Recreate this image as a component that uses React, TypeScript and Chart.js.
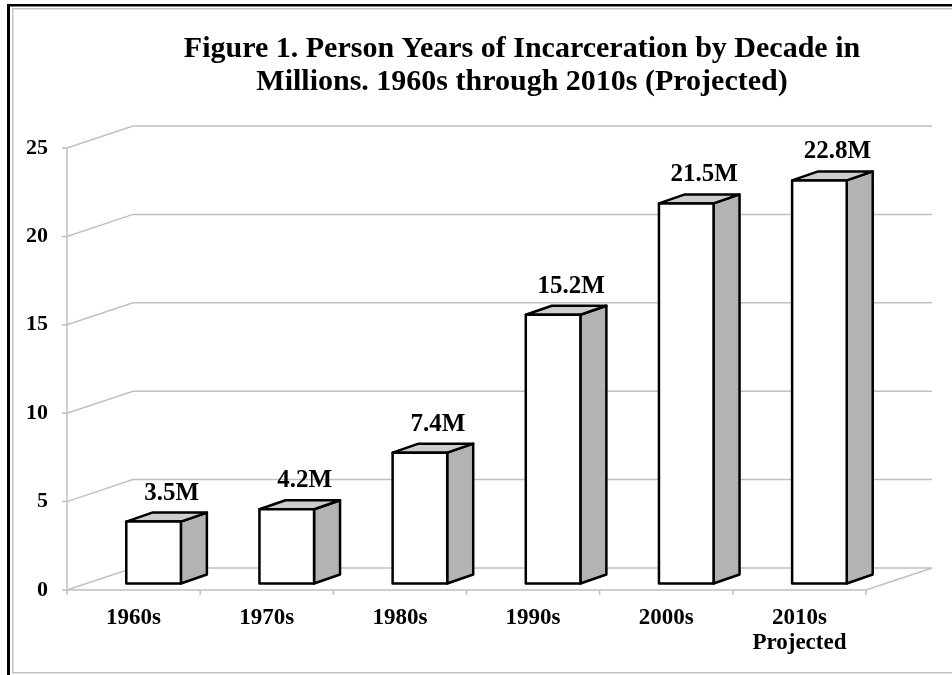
import React, { useEffect, useRef } from "react";
import { Chart, registerables } from "chart.js";

Chart.register(...registerables);

const categories: (string | string[])[] = ["1960s", "1970s", "1980s", "1990s", "2000s", ["2010s", "Projected"]];
const values: number[] = [3.5, 4.2, 7.4, 15.2, 21.5, 22.8];
const valueLabels: string[] = ["3.5M", "4.2M", "7.4M", "15.2M", "21.5M", "22.8M"];
const yTicks: number[] = [0, 5, 10, 15, 20, 25];
const titleLines: string[] = [
  "Figure 1. Person Years of Incarceration by Decade in",
  "Millions. 1960s through 2010s (Projected)",
];

const FONT = "'Liberation Serif', 'Times New Roman', Times, serif";
const DEPTH_X = 66;
const DEPTH_Y = -22;
const BAR_OFF_X = 20;
const BAR_OFF_Y = -6.5;
const BAR_DX = 26;
const BAR_DY = -9;

const threeDPlugin = {
  id: "threeD",
  beforeDraw(chart: any) {
    const ctx = chart.ctx as CanvasRenderingContext2D;
    const W = chart.width;
    const H = chart.height;
    ctx.save();
    ctx.fillStyle = "#ffffff";
    ctx.fillRect(0, 0, W, H);
    // frame
    ctx.fillStyle = "#000000";
    ctx.fillRect(7, 4, 3, H - 4);
    ctx.fillRect(7, 4, W - 7, 2.5);
    ctx.strokeStyle = "#c4c4c4";
    ctx.lineWidth = 1.5;
    ctx.beginPath();
    ctx.moveTo(12.75, H - 2);
    ctx.lineTo(12.75, 8.75);
    ctx.lineTo(W, 8.75);
    ctx.stroke();
    ctx.beginPath();
    ctx.moveTo(12, H - 2.25);
    ctx.lineTo(W, H - 2.25);
    ctx.stroke();

    // grid walls
    const { left, right, top, bottom } = chart.chartArea;
    const ys = chart.scales.y;
    const xs = chart.scales.x;
    ctx.strokeStyle = "#c0c0c0";
    ctx.lineWidth = 1.5;
    yTicks.forEach((v) => {
      const y = ys.getPixelForValue(v);
      ctx.beginPath();
      ctx.moveTo(left - 5, y);
      ctx.lineTo(left, y);
      ctx.lineTo(left + DEPTH_X, y + DEPTH_Y);
      ctx.lineTo(right + DEPTH_X, y + DEPTH_Y);
      ctx.stroke();
    });
    ctx.beginPath();
    ctx.moveTo(left, top);
    ctx.lineTo(left, bottom + 5);
    ctx.stroke();
    ctx.beginPath();
    ctx.moveTo(left, bottom);
    ctx.lineTo(right, bottom);
    ctx.lineTo(right + DEPTH_X, bottom + DEPTH_Y);
    ctx.stroke();
    const n = categories.length;
    for (let i = 0; i < n; i++) {
      const bx = i < n - 1 ? (xs.getPixelForValue(i) + xs.getPixelForValue(i + 1)) / 2 : right;
      ctx.beginPath();
      ctx.moveTo(bx, bottom);
      ctx.lineTo(bx, bottom + 5);
      ctx.stroke();
    }
    ctx.restore();
  },
  afterDatasetsDraw(chart: any) {
    const ctx = chart.ctx as CanvasRenderingContext2D;
    const meta = chart.getDatasetMeta(0);
    ctx.save();
    ctx.lineWidth = 2.5;
    ctx.lineJoin = "round";
    ctx.strokeStyle = "#000000";
    meta.data.forEach((el: any, i: number) => {
      const p = el.getProps(["x", "y", "base", "width"], true);
      const l = p.x - p.width / 2 + BAR_OFF_X;
      const r = p.x + p.width / 2 + BAR_OFF_X;
      const t = p.y + BAR_OFF_Y;
      const b = p.base + BAR_OFF_Y;
      // side
      ctx.fillStyle = "#b3b3b3";
      ctx.beginPath();
      ctx.moveTo(r, b);
      ctx.lineTo(r + BAR_DX, b + BAR_DY);
      ctx.lineTo(r + BAR_DX, t + BAR_DY);
      ctx.lineTo(r, t);
      ctx.closePath();
      ctx.fill();
      ctx.stroke();
      // top
      ctx.fillStyle = "#cdcdcd";
      ctx.beginPath();
      ctx.moveTo(l, t);
      ctx.lineTo(l + BAR_DX, t + BAR_DY);
      ctx.lineTo(r + BAR_DX, t + BAR_DY);
      ctx.lineTo(r, t);
      ctx.closePath();
      ctx.fill();
      ctx.stroke();
      // front
      ctx.fillStyle = "#ffffff";
      ctx.beginPath();
      ctx.rect(l, t, r - l, b - t);
      ctx.fill();
      ctx.stroke();
      // value label
      ctx.fillStyle = "#000000";
      ctx.font = `bold 25px ${FONT}`;
      ctx.textAlign = "center";
      ctx.textBaseline = "alphabetic";
      ctx.fillText(valueLabels[i], (l + r) / 2 + 18, t - 22);
    });
    ctx.restore();
  },
  afterDraw(chart: any) {
    const ctx = chart.ctx as CanvasRenderingContext2D;
    ctx.save();
    ctx.fillStyle = "#000000";
    ctx.font = `bold 30px ${FONT}`;
    ctx.textAlign = "center";
    ctx.textBaseline = "alphabetic";
    ctx.fillText(titleLines[0], 522, 57);
    ctx.fillText(titleLines[1], 522, 90);
    ctx.restore();
  },
};

export default function App() {
  const canvasRef = useRef<HTMLCanvasElement | null>(null);

  useEffect(() => {
    const canvas = canvasRef.current;
    if (!canvas) return;
    const chart = new Chart(canvas, {
      type: "bar",
      data: {
        labels: categories,
        datasets: [
          {
            data: values,
            backgroundColor: "rgba(0,0,0,0)",
            borderWidth: 0,
            barPercentage: 0.41,
            categoryPercentage: 1,
          },
        ],
      },
      options: {
        responsive: false,
        animation: false,
        layout: { padding: { top: 148, right: 86, bottom: 0, left: 0 } },
        plugins: {
          legend: { display: false },
          tooltip: { enabled: false },
          title: { display: false },
        },
        scales: {
          x: {
            grid: { display: false, drawTicks: false },
            border: { display: false },
            ticks: {
              color: "#000000",
              font: { family: FONT, size: 23, weight: "bold", lineHeight: 1.1 },
              padding: 15,
              maxRotation: 0,
              autoSkip: false,
            },
            afterFit: (s: any) => {
              s.height = 85;
            },
          },
          y: {
            min: 0,
            max: 25,
            grid: { display: false, drawTicks: false },
            border: { display: false },
            ticks: {
              stepSize: 5,
              color: "#000000",
              font: { family: FONT, size: 22, weight: "bold" },
              padding: 19,
            },
            afterFit: (s: any) => {
              s.width = 67;
            },
          },
        },
      },
      plugins: [threeDPlugin],
    });
    return () => chart.destroy();
  }, []);

  return (
    <div style={{ position: "fixed", left: 0, top: 0, width: 952, height: 675, background: "#fff" }}>
      <canvas ref={canvasRef} width={952} height={675} style={{ display: "block" }} />
    </div>
  );
}
